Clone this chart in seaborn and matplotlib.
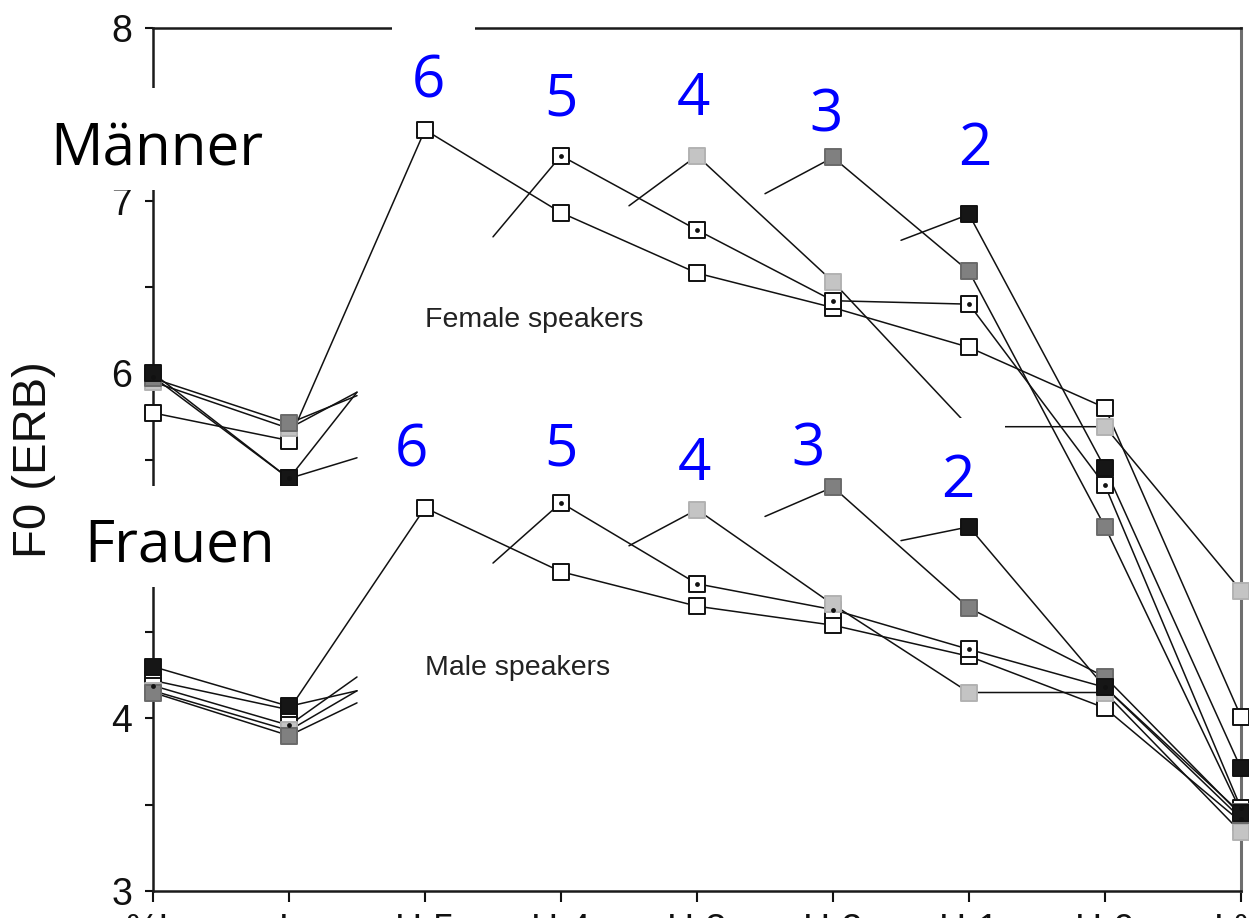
import numpy as np
import pandas as pd
import matplotlib.pyplot as plt
from matplotlib.patches import Rectangle
import seaborn as sns

# F0 contours (ERB) at each syllable position, one list per peak position.
# NaN = position not present in that condition (the line is broken there).
positions = ["%L", "L", "H-5", "H-4", "H-3", "H-2", "H-1", "H-0", "L%"]
y_ticks = [3, 4, 5, 6, 7, 8]
y_tick_labels = ["3", "4", "", "6", "7", "8"]  # the 5 sits under the "Frauen" box
peak_labels = ["6", "5", "4", "3", "2"]
peak_pos = [2, 3, 4, 5, 6]
nan = np.nan

# Female speakers
f6 = [5.77, 5.61, 7.41, 6.93, 6.58, 6.38, 6.15, 5.80, 4.01]
f5 = [5.98, 5.39, nan, 7.26, 6.83, 6.42, 6.40, 5.35, 3.48]
f4 = [5.95, 5.68, nan, nan, 7.26, 6.53, 5.69, 5.69, 4.74]
f3 = [5.97, 5.71, nan, nan, nan, 7.25, 6.59, 5.11, 3.46]
f2 = [6.00, 5.39, nan, nan, nan, nan, 6.92, 5.45, 3.71]
# stubs of the broken lines: right after L, and just before the peak
f_stub_out = [nan, 5.89, 5.89, 5.87, 5.51]
f_stub_in = [nan, 6.79, 6.97, 7.04, 6.77]

# Male speakers
m6 = [4.22, 4.05, 5.22, 4.85, 4.65, 4.54, 4.36, 4.06, 3.40]
m5 = [4.19, 3.96, nan, 5.25, 4.78, 4.63, 4.40, 4.18, 3.42]
m4 = [4.16, 3.93, nan, nan, 5.21, 4.66, 4.15, 4.15, 3.34]
m3 = [4.15, 3.90, nan, nan, nan, 5.34, 4.64, 4.24, 3.44]
m2 = [4.30, 4.07, nan, nan, nan, nan, 5.11, 4.18, 3.45]
m_stub_out = [nan, 4.24, 4.16, 4.09, 4.16]
m_stub_in = [nan, 4.90, 5.00, 5.17, 5.03]

# marker look per condition (6 .. 2)
marker_face = ["white", "white", "#c4c4c4", "#808080", "#161616"]
marker_edge = ["#111111", "#111111", "#b2b2b2", "#6a6a6a", "#111111"]

W, H = 1249, 918

sns.set_style("ticks")
plt.rcParams["font.family"] = ["Liberation Sans", "DejaVu Sans"]

# build line segments and points
line_rows, pt_rows = [], []
unit = 0
groups = [("female", [f6, f5, f4, f3, f2], f_stub_out, f_stub_in),
          ("male", [m6, m5, m4, m3, m2], m_stub_out, m_stub_in)]
for gender, series, outs, ins in groups:
    for k, (vals, so, si, p) in enumerate(zip(series, outs, ins, peak_pos)):
        if p == 2:
            segs = [(list(range(9)), vals)]
        else:
            segs = [([0, 1, 1.5], [vals[0], vals[1], so]),
                    ([p - 0.5] + list(range(p, 9)), [si] + vals[p:])]
        for xs, ys in segs:
            for x, y in zip(xs, ys):
                line_rows.append({"x": x, "y": y, "unit": unit})
            unit += 1
        for i, y in enumerate(vals):
            if not np.isnan(y):
                pt_rows.append({"x": i, "y": y, "k": k, "gender": gender})

lines = pd.DataFrame(line_rows)
pts = pd.DataFrame(pt_rows)

fig = plt.figure(figsize=(W / 100, H / 100), dpi=100)
ax = fig.add_axes([153 / W, (H - 891) / H, (1241 - 153) / W, (891 - 28) / H])

sns.lineplot(data=lines, x="x", y="y", units="unit", estimator=None, sort=False,
             color="#111111", linewidth=1.1, ax=ax, legend=False)

for k in range(5):
    sub = pts[pts["k"] == k]
    sns.scatterplot(data=sub, x="x", y="y", marker="s", s=140, color=marker_face[k],
                    edgecolor=marker_edge[k], linewidth=1.4, ax=ax, legend=False,
                    zorder=3, clip_on=False)
    if k == 1:
        sns.scatterplot(data=sub, x="x", y="y", marker="o", s=12, color="#111111",
                        linewidth=0, ax=ax, legend=False, zorder=4, clip_on=False)

ax.set_xlim(0, 8)
ax.set_ylim(3, 8)
ax.set_xticks(range(9))
ax.set_xticklabels(positions)
ax.set_yticks(y_ticks)
ax.set_yticklabels(y_tick_labels)
ax.set_yticks(np.arange(3.5, 8, 1), minor=True)
ax.tick_params(axis="x", length=8, width=1.5, labelsize=27, pad=8, colors="#111111")
ax.tick_params(axis="y", which="both", length=6, width=1.5, labelsize=27, pad=9,
               colors="#111111")
ax.set_xlabel("")
ax.set_ylabel("F0 (ERB)", fontsize=34, va="center", color="#111111")
ax.yaxis.set_label_coords((34 - 153) / (1241 - 153), (891 - 460) / (891 - 28))

for side in ["left", "bottom", "top"]:
    ax.spines[side].set_linewidth(1.8)
    ax.spines[side].set_color("#1a1a1a")
ax.spines["right"].set_linewidth(2.2)
ax.spines["right"].set_color("#6e6e6e")

ax.text(2.0, 6.27, "Female speakers", fontsize=20.5, color="#222222", va="baseline")
ax.text(2.0, 4.25, "Male speakers", fontsize=20.5, color="#222222", va="baseline")

# white cover boxes of the annotated slide (pixel coords x0, y0, x1, y1)
boxes = [(392, 0, 475, 115), (30, 88, 275, 190), (70, 486, 305, 587), (930, 418, 1005, 505)]
for x0, y0, x1, y1 in boxes:
    ax.add_artist(Rectangle((x0 / W, 1 - y1 / H), (x1 - x0) / W, (y1 - y0) / H,
                            transform=fig.transFigure, facecolor="white",
                            edgecolor="none", zorder=10, clip_on=False))

label_font = ["Open Sans", "DejaVu Sans"]
for txt, px, py in [("Männer", 50, 165), ("Frauen", 84, 562)]:
    ax.text(px / W, 1 - py / H, txt, transform=fig.transFigure, fontsize=42,
            family=label_font, color="black", ha="left", va="baseline",
            zorder=11, clip_on=False)

# blue numbers above each peak (centre x, baseline y in pixels)
upper_xy = [(428, 98), (561, 115), (693, 115), (826, 132), (975, 165)]
lower_xy = [(411, 466), (561, 465), (694, 480), (808, 465), (958, 497)]
for xy_list in [upper_xy, lower_xy]:
    for lab, (px, py) in zip(peak_labels, xy_list):
        ax.text(px / W, 1 - py / H, lab, transform=fig.transFigure, fontsize=42,
                family=label_font, color="#0000ff", ha="center", va="baseline",
                zorder=11, clip_on=False)

fig.savefig("out.png", dpi=100)
